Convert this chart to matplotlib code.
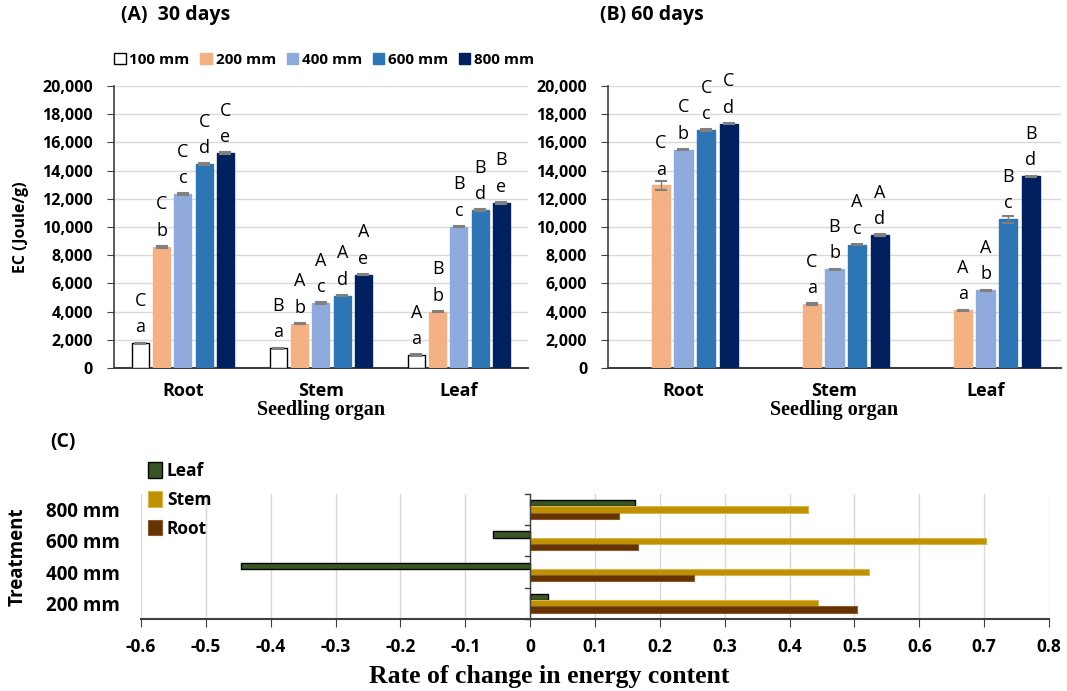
import numpy as np
import matplotlib
matplotlib.use("Agg")
import matplotlib.pyplot as plt
from matplotlib.patches import Patch

# ---------------- data ----------------
organs = ["Root", "Stem", "Leaf"]
treatments = ["100 mm", "200 mm", "400 mm", "600 mm", "800 mm"]
colors = ["#FFFFFF", "#F4B183", "#8FAADC", "#2E75B6", "#002060"]

ec30_100 = [1750, 1400, 920]
ec30_200 = [8600, 3150, 4000]
ec30_400 = [12350, 4600, 10030]
ec30_600 = [14480, 5130, 11200]
ec30_800 = [15250, 6620, 11720]
err30_100 = [50, 40, 40]
err30_200 = [50, 50, 60]
err30_400 = [50, 50, 60]
err30_600 = [50, 50, 50]
err30_800 = [50, 40, 50]
low30 = [["a"] * 3, ["b"] * 3, ["c"] * 3, ["d"] * 3, ["e"] * 3]
up30 = [["C", "B", "A"], ["C", "A", "B"], ["C", "A", "B"], ["C", "A", "B"], ["C", "A", "B"]]

ec60_100 = [np.nan, np.nan, np.nan]
ec60_200 = [12950, 4550, 4100]
ec60_400 = [15500, 7000, 5520]
ec60_600 = [16880, 8750, 10550]
ec60_800 = [17330, 9430, 13600]
err60_100 = [0, 0, 0]
err60_200 = [350, 60, 50]
err60_400 = [50, 50, 50]
err60_600 = [50, 50, 250]
err60_800 = [50, 50, 50]
low60 = [["", "", ""], ["a"] * 3, ["b"] * 3, ["c"] * 3, ["d"] * 3]
up60 = [["", "", ""], ["C", "C", "A"], ["C", "B", "A"], ["C", "A", "B"], ["C", "A", "B"]]

rate_treat = ["200 mm", "400 mm", "600 mm", "800 mm"]
rate_leaf = [0.027, -0.446, -0.057, 0.161]
rate_stem = [0.444, 0.523, 0.703, 0.428]
rate_root = [0.504, 0.253, 0.166, 0.137]

# ---------------- figure ----------------
SANS = ["Open Sans", "DejaVu Sans"]
SERIF = ["Liberation Serif", "DejaVu Serif"]
fig = plt.figure(figsize=(10.67, 6.91), dpi=100)

axA = fig.add_axes([0.1068, 0.4674, 0.388, 0.408])
axB = fig.add_axes([0.5698, 0.4674, 0.4246, 0.408])
axC = fig.add_axes([0.1321, 0.1042, 0.851, 0.181])


def bar_panel(ax, vals, errs, lows, ups, slot, width):
    x = np.arange(len(organs))
    for i, (v, e, c) in enumerate(zip(vals, errs, colors)):
        pos = x + (i - 2) * slot
        v = np.array(v, dtype=float)
        ec = "black" if i == 0 else c
        ax.bar(pos, v, width=width, color=c, edgecolor=ec, linewidth=1.0,
               label=treatments[i], zorder=3)
        ax.errorbar(pos, v, yerr=e, fmt="none", ecolor="#808080", elinewidth=1.0,
                    capsize=4, capthick=1.5, zorder=4)
        for j in range(len(organs)):
            if np.isnan(v[j]):
                continue
            ax.annotate(lows[i][j], (pos[j], v[j]), xytext=(0, 5), textcoords="offset points",
                        ha="center", va="bottom", fontsize=13, family=SANS)
            ax.annotate(ups[i][j], (pos[j], v[j]), xytext=(0, 24), textcoords="offset points",
                        ha="center", va="bottom", fontsize=13, family=SANS)
    ax.set_xlim(-0.5, 2.5)
    ax.set_ylim(0, 20000)
    ax.set_yticks(np.arange(0, 20001, 2000))
    ax.set_yticklabels([f"{t:,}" for t in range(0, 20001, 2000)],
                       fontsize=11.5, fontweight="bold", family=SANS)
    ax.set_xticks(x)
    ax.set_xticklabels(organs, fontsize=13, fontweight="bold", family=SANS)
    ax.tick_params(axis="x", length=0, pad=10)
    ax.tick_params(axis="y", length=5, color="#404040", pad=10)
    ax.grid(axis="y", color="#D9D9D9", linewidth=1.0, zorder=0)
    ax.set_axisbelow(True)
    for s in ["top", "right"]:
        ax.spines[s].set_visible(False)
    ax.spines["left"].set_color("#404040")
    ax.spines["bottom"].set_color("#404040")
    ax.spines["left"].set_linewidth(1.2)
    ax.spines["bottom"].set_linewidth(1.5)
    ax.set_xlabel("Seedling organ", fontsize=14.5, fontweight="bold", family=SERIF,
                  va="center")
    ax.xaxis.set_label_coords(0.5, -(410 - 368) / 282)


bar_panel(axA, [ec30_100, ec30_200, ec30_400, ec30_600, ec30_800],
          [err30_100, err30_200, err30_400, err30_600, err30_800], low30, up30, 0.154, 0.123)
bar_panel(axB, [ec60_100, ec60_200, ec60_400, ec60_600, ec60_800],
          [err60_100, err60_200, err60_400, err60_600, err60_800], low60, up60, 0.150, 0.12)

axA.set_ylabel("EC (Joule/g)", fontsize=11.5, fontweight="bold", family=SANS)
axA.yaxis.set_label_coords(-(114 - 29) / 414, 0.5)

handles = [Patch(facecolor=c, edgecolor=("black" if i == 0 else c)) for i, c in enumerate(colors)]
axA.legend(handles, treatments, loc="center", bbox_to_anchor=(0.508, 1.092), ncol=5,
           frameon=False, handlelength=0.75, handleheight=0.75, handletextpad=0.25,
           columnspacing=0.7, prop={"family": SANS, "weight": "bold", "size": 11})

fig.text(121 / 1067, 1 - 15 / 691, "(A)  30 days", fontsize=14, fontweight="bold",
         family=SANS, ha="left", va="center")
fig.text(600 / 1067, 1 - 15 / 691, "(B) 60 days", fontsize=14, fontweight="bold",
         family=SANS, ha="left", va="center")
fig.text(50 / 1067, 1 - 442 / 691, "(C)", fontsize=14, fontweight="bold",
         family=SANS, ha="left", va="center")

# ---------------- panel C ----------------
y = np.arange(len(rate_treat))
h = 0.2
axC.barh(y + h, rate_leaf, height=h, color="#375623", edgecolor="black", linewidth=1.0,
         label="Leaf", zorder=3)
axC.barh(y, rate_stem, height=h, color="#BF9000", edgecolor="#D9B550", linewidth=0.8,
         label="Stem", zorder=3)
axC.barh(y - h, rate_root, height=h, color="#663300", edgecolor="#8A5A30", linewidth=0.8,
         label="Root", zorder=3)
axC.set_xlim(-0.6, 0.8)
axC.set_ylim(-0.5, 3.5)
xt = np.round(np.arange(-0.6, 0.81, 0.1), 1)
axC.set_xticks(xt)
axC.set_xticklabels([("0" if t == 0 else f"{t:g}") for t in xt], fontsize=12.5,
                    fontweight="bold", family=SANS)
axC.set_yticks(y)
axC.set_yticklabels(rate_treat, fontsize=13.5, fontweight="bold", family=SANS)
axC.tick_params(axis="y", length=0, pad=15)
axC.tick_params(axis="x", length=6, direction="out", color="#404040", pad=8)
axC.grid(axis="x", color="#D9D9D9", linewidth=1.0, zorder=0)
axC.set_axisbelow(True)
for s in ["top", "right", "left"]:
    axC.spines[s].set_visible(False)
axC.spines["bottom"].set_color("#404040")
axC.spines["bottom"].set_linewidth(1.5)
axC.axvline(0, color="#404040", linewidth=1.0, zorder=5)
for b in np.arange(-0.5, 3.6, 1.0):
    axC.plot([-0.008, 0], [b, b], color="#404040", linewidth=1.0, zorder=5, clip_on=False)
axC.set_ylabel("Treatment", fontsize=13.5, fontweight="bold", family=SANS, va="center")
axC.yaxis.set_label_coords(-(141 - 18) / 908, 0.5)
fig.text(549 / 1067, 1 - 677 / 691, "Rate of change in energy content", fontsize=18.5,
         fontweight="bold", family=SERIF, ha="center", va="center")
axC.legend(loc="upper left", bbox_to_anchor=(0.0, 1.31), frameon=False,
           handlelength=0.8, handleheight=1.0, handletextpad=0.3, labelspacing=0.62,
           borderaxespad=0.0, prop={"family": SANS, "weight": "bold", "size": 12.5})

fig.savefig("out.png", dpi=100)
